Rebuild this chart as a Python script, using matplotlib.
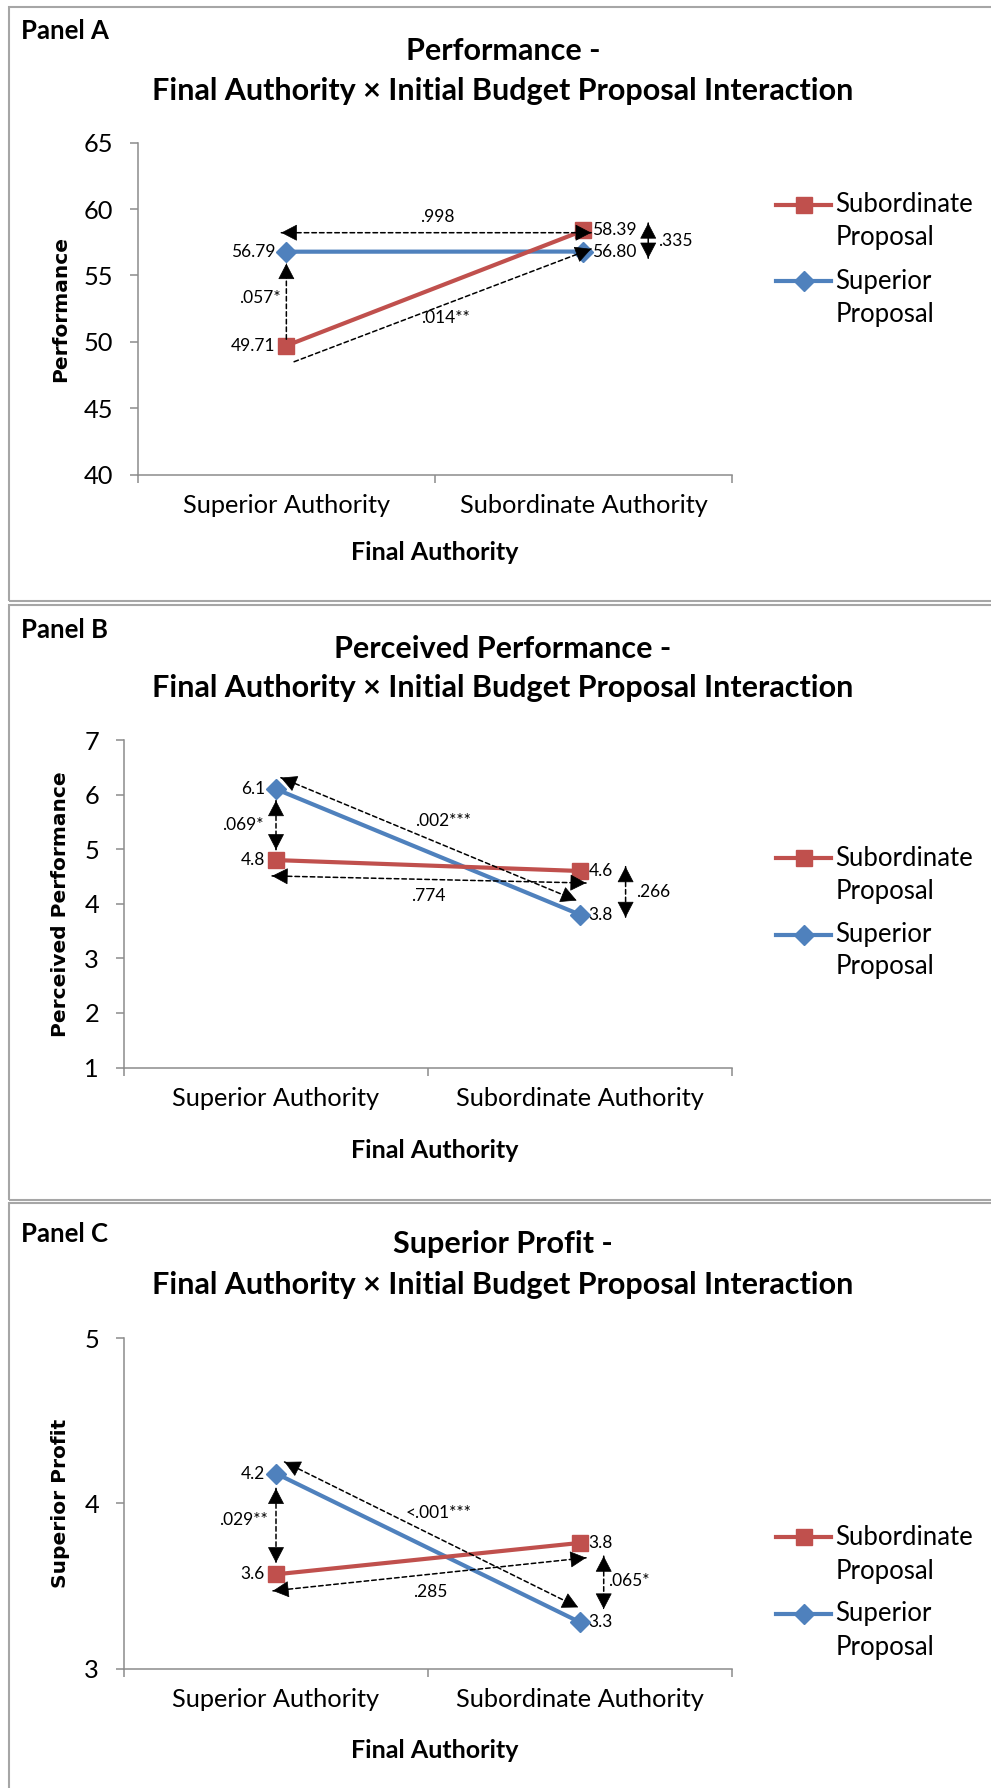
import matplotlib.pyplot as plt
from matplotlib.lines import Line2D
from matplotlib.patches import Rectangle, ArrowStyle

plt.rcParams['font.family'] = ['Lato', 'DejaVu Sans']

W, H = 991, 1788

# ---- data ----
categories = ["Superior Authority", "Subordinate Authority"]
legend_lines = [["Subordinate", "Proposal"], ["Superior", "Proposal"]]

perf_sub = [49.71, 58.39]
perf_sup = [56.79, 56.80]
perc_sub = [4.8, 4.6]
perc_sup = [6.1, 3.8]
prof_sub = [3.57, 3.76]
prof_sup = [4.18, 3.28]

# p-value arrows: label, start (x, y), end (x, y), heads, label position
perf_arrows = [
    (".998", (-0.017, 58.22), (1.026, 58.22), "both", (0.509, 59.37)),
    (".057*", (0.0, 50.2), (0.0, 55.9), "end", (-0.09, 53.3)),
    (".014**", (0.026, 48.5), (1.026, 57.0), "end", (0.536, 51.8)),
    (".335", (1.218, 56.3), (1.218, 58.95), "both", (1.31, 57.6)),
]
perc_arrows = [
    (".002***", (0.016, 6.31), (0.989, 4.06), "both", (0.548, 5.52)),
    (".069*", (0.0, 5.89), (0.0, 4.99), "both", (-0.11, 5.44)),
    (".774", (-0.013, 4.51), (1.02, 4.38), "both", (0.50, 4.15)),
    (".266", (1.15, 4.68), (1.15, 3.75), "both", (1.24, 4.22)),
]
prof_arrows = [
    ("<.001***", (0.028, 4.25), (0.994, 3.37), "both", (0.536, 3.94)),
    (".029**", (0.0, 4.09), (0.0, 3.64), "both", (-0.108, 3.90)),
    (".285", (-0.01, 3.47), (1.02, 3.67), "both", (0.506, 3.46)),
    (".065*", (1.078, 3.68), (1.078, 3.36), "both", (1.16, 3.53)),
]

RED = "#C0504D"
BLUE = "#4F81BD"
GREY = "#8C8C8C"

panels = [
    dict(label="Panel A", title="Performance -", ylabel="Performance",
         sub=perf_sub, sup=perf_sup, ylim=(40, 65), yticks=[40, 45, 50, 55, 60, 65],
         fmt="{:.2f}", arrows=perf_arrows,
         ax_px=(137.8, 142.7, 732, 474.6), rect=(9, 7, 1010, 600.5),
         label_y=30.6, title_y=(50.5, 90.7), leg_y=(204.7, 238, 281, 314.6),
         xlabel_y=552),
    dict(label="Panel B", title="Perceived Performance -", ylabel="Perceived Performance",
         sub=perc_sub, sup=perc_sup, ylim=(1, 7), yticks=[1, 2, 3, 4, 5, 6, 7],
         fmt="{:.1f}", arrows=perc_arrows,
         ax_px=(124, 740, 732, 1067.5), rect=(9, 605, 1010, 1199.5),
         label_y=630, title_y=(649, 688), leg_y=(858.3, 891.4, 934.6, 967),
         xlabel_y=1151),
    dict(label="Panel C", title="Superior Profit -", ylabel="Superior Profit",
         sub=prof_sub, sup=prof_sup, ylim=(3, 5), yticks=[3, 4, 5],
         fmt="{:.1f}", arrows=prof_arrows,
         ax_px=(124, 1338, 732, 1668.5), rect=(9, 1203, 1010, 1800),
         label_y=1233.6, title_y=(1244, 1284.6), leg_y=(1537.3, 1571.3, 1613.7, 1647),
         xlabel_y=1751),
]


def fx(x):
    return x / W


def fy(y):
    return 1 - y / H


def p_arrow(ax, p0, p1, heads):
    ax.annotate("", xy=p1, xytext=p0,
                arrowprops=dict(arrowstyle="-", linestyle=(0, (3, 2)), lw=1.1,
                                color="black", shrinkA=0, shrinkB=0))
    ends = [(p1, p0)] if heads == "end" else [(p1, p0), (p0, p1)]
    for tip, base in ends:
        back = (tip[0] + (base[0] - tip[0]) * 0.01, tip[1] + (base[1] - tip[1]) * 0.01)
        ax.annotate("", xy=tip, xytext=back,
                    arrowprops=dict(arrowstyle=ArrowStyle("-|>", head_length=0.52, head_width=0.27),
                                    mutation_scale=20, color="black", lw=0.5,
                                    shrinkA=0, shrinkB=0))


fig = plt.figure(figsize=(W / 100, H / 100), dpi=100)

for p in panels:
    x0, y0, x1, y1 = p["rect"]
    fig.add_artist(Rectangle((fx(x0), fy(y1)), fx(x1 - x0), (y1 - y0) / H,
                             transform=fig.transFigure, fill=False,
                             edgecolor="#A6A6A6", lw=1.5))

    l, t, r, b = p["ax_px"]
    ax = fig.add_axes([fx(l), fy(b), fx(r - l), (b - t) / H])
    xs = [0, 1]
    ax.plot(xs, p["sup"], color=BLUE, lw=3, marker="D", ms=10, zorder=3)
    ax.plot(xs, p["sub"], color=RED, lw=3, marker="s", ms=11, zorder=3)

    for vals in (p["sub"], p["sup"]):
        ax.annotate(p["fmt"].format(vals[0]), (0, vals[0]), xytext=(-8, 0),
                    textcoords="offset points", ha="right", va="center", fontsize=12.5)
        ax.annotate(p["fmt"].format(vals[1]), (1, vals[1]), xytext=(6, 0),
                    textcoords="offset points", ha="left", va="center", fontsize=12.5)

    for lab, s, e, heads, lp in p["arrows"]:
        p_arrow(ax, s, e, heads)
        ax.text(lp[0], lp[1], lab, ha="center", va="center", fontsize=12.5)

    ax.set_xlim(-0.5, 1.5)
    ax.set_ylim(*p["ylim"])
    ax.set_yticks(p["yticks"])
    ax.set_xticks(xs)
    ax.set_xticklabels(categories)
    ax.set_xticks([-0.5, 0.5, 1.5], minor=True)
    ax.tick_params(axis="x", which="major", length=0, pad=14, labelsize=18.3)
    ax.tick_params(axis="x", which="minor", length=6, color=GREY, width=1.1)
    ax.tick_params(axis="y", length=6, color=GREY, width=1.1, labelsize=18.3, pad=12)
    for s in ("top", "right"):
        ax.spines[s].set_visible(False)
    for s in ("left", "bottom"):
        ax.spines[s].set_color(GREY)
        ax.spines[s].set_linewidth(1.1)

    ax.set_ylabel(p["ylabel"], family="DejaVu Sans", fontweight="bold", fontsize=14.5)
    ax.yaxis.set_label_coords(fx(61), fy((t + b) / 2), transform=fig.transFigure)
    ax.yaxis.label.set_va("center")
    ax.set_xlabel("Final Authority", fontweight="bold", fontsize=18)
    ax.xaxis.set_label_coords(fx(434.6), fy(p["xlabel_y"]), transform=fig.transFigure)
    ax.xaxis.label.set_va("center")

    fig.text(fx(21), fy(p["label_y"]), p["label"], ha="left", va="center",
             fontsize=18.5, fontweight="bold")
    fig.text(fx(503), fy(p["title_y"][0]), p["title"], ha="center", va="center",
             fontsize=22, fontweight="bold")
    fig.text(fx(503), fy(p["title_y"][1]),
             "Final Authority \u00d7 Initial Budget Proposal Interaction",
             ha="center", va="center", fontsize=22, fontweight="bold")

    # legend drawn by hand so the marker sits on the first text line
    ly = p["leg_y"]
    for (color, marker, ms), lines, (ya, yb) in zip(
            [(RED, "s", 11), (BLUE, "D", 10)], legend_lines, [(ly[0], ly[1]), (ly[2], ly[3])]):
        fig.add_artist(Line2D([fx(776), fx(803.5), fx(831)], [fy(ya)] * 3,
                              transform=fig.transFigure, color=color, lw=3,
                              marker=marker, ms=ms, markevery=[1]))
        fig.text(fx(835.6), fy(ya), lines[0], ha="left", va="center", fontsize=18.5)
        fig.text(fx(835.6), fy(yb), lines[1], ha="left", va="center", fontsize=18.5)

fig.savefig("out.png", dpi=100)
